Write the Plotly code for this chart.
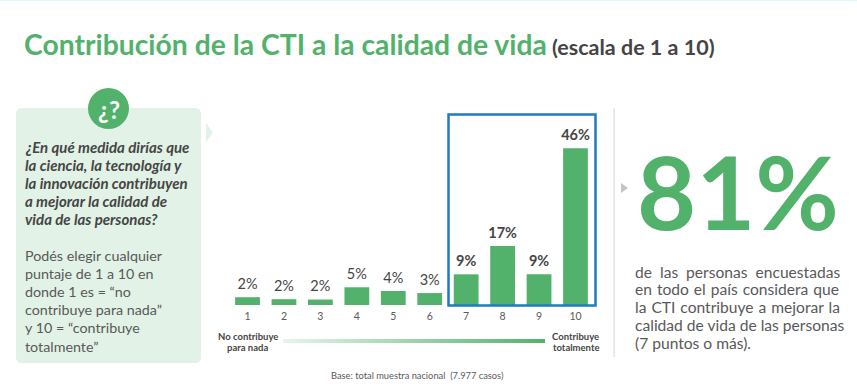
import plotly.graph_objects as go

W, H = 857, 388
categories = ["1", "2", "3", "4", "5", "6", "7", "8", "9", "10"]
values = [2.3, 1.7, 1.6, 5.2, 4.1, 3.5, 9.0, 17.3, 9.0, 46.0]
labels = ["2%", "2%", "2%", "5%", "4%", "3%", "<b>9%</b>", "<b>17%</b>", "<b>9%</b>", "<b>46%</b>"]

GREEN = "#52b26b"
DARK = "#454545"
GRAY = "#595959"
FONT = "Lato"

def px(x): return x / W
def py(y): return 1 - y / H

fig = go.Figure()
fig.add_trace(go.Bar(x=categories, y=values, width=0.68, marker=dict(color=GREEN, line=dict(width=0)),
                     xaxis="x", yaxis="y"))
fig.add_trace(go.Scatter(x=categories, y=values, text=labels, mode="markers+text", textposition="top center",
                         marker=dict(size=6, opacity=0), cliponaxis=False,
                         textfont=dict(family=FONT, size=14.5, color=DARK), xaxis="x", yaxis="y"))
fig.add_trace(go.Heatmap(x=[0, 1], y=[0, 1], z=[[0, 1], [0, 1]], zsmooth="best", showscale=False,
                         colorscale=[[0, "#e6f4ea"], [1, GREEN]], xaxis="x2", yaxis="y2", hoverinfo="skip"))

def rect(x0, y0, x1, y1, **kw):
    return dict(type="rect", xref="paper", yref="paper", x0=px(x0), x1=px(x1), y0=py(y0), y1=py(y1), **kw)

def rounded(x0, y0, x1, y1, r, color):
    pts = [(x0 + r, y0), (x1 - r, y0), (x1, y0, x1, y0 + r), (x1, y1 - r), (x1, y1, x1 - r, y1),
           (x0 + r, y1), (x0, y1, x0, y1 - r), (x0, y0 + r), (x0, y0, x0 + r, y0)]
    d = ""
    for i, p in enumerate(pts):
        if len(p) == 2:
            d += f"{'M' if i == 0 else 'L'}{px(p[0]):.5f},{py(p[1]):.5f} "
        else:
            d += f"Q{px(p[0]):.5f},{py(p[1]):.5f} {px(p[2]):.5f},{py(p[3]):.5f} "
    return dict(type="path", xref="paper", yref="paper", path=d + "Z", fillcolor=color, line=dict(width=0), layer="below")

def tri(x0, y0, x1, y1, color):
    d = f"M{px(x0):.5f},{py(y0):.5f} L{px(x1):.5f},{py((y0 + y1) / 2):.5f} L{px(x0):.5f},{py(y1):.5f} Z"
    return dict(type="path", xref="paper", yref="paper", path=d, fillcolor=color, line=dict(width=0), layer="below")

shapes = [
    rect(0, 0, W, 1, fillcolor="#d9fbfb", line=dict(width=0), layer="below"),
    rounded(16, 108, 201, 363, 6, "#e2f2e6"),
    dict(type="circle", xref="paper", yref="paper", x0=px(88), x1=px(129), y0=py(88), y1=py(129),
         fillcolor=GREEN, line=dict(width=0)),
    tri(206, 123, 213, 142, "#e2f2e6"),
    tri(621, 183, 628, 193, "#c4c4c4"),
    rect(613.6, 108, 614.6, 357, fillcolor="#d5d5d5", line=dict(width=0), layer="below"),
    rect(448.5, 114.5, 595.5, 305.5, fillcolor="rgba(0,0,0,0)", line=dict(color="#1f7bbf", width=2.5)),
]

def note(x, y, text, size, color=GRAY, anchor="left", family=FONT):
    return dict(xref="paper", yref="paper", x=px(x), y=py(y), text=text, showarrow=False, xanchor=anchor,
                yanchor="middle", align=anchor, font=dict(family=family, size=size, color=color),
                borderpad=0, borderwidth=0)

NB = "\u00a0"
HS = "\u00a0\u200a"
anns = [
    note(24, 44, "<b>Contribución de la CTI a la calidad de vida</b>", 28.3, GREEN),
    note(552, 47, "<b>(escala de 1 a 10)</b>", 21.5, DARK),
    note(108.5, 109, "<b>¿?</b>", 24, "white", "center"),
    note(637, 190, "<b>81%</b>", 102, GREEN),
    note(417, 375, "Base: total muestra nacional  (7.977 casos)", 9.3, GRAY, "center"),
    note(247.5, 336, "<b>No contribuye</b>", 9.5, DARK, "center"),
    note(247.5, 347, "<b>para nada</b>", 9.5, DARK, "center"),
    note(598.5, 336, "<b>Contribuye</b>", 9.5, DARK, "right"),
    note(598.5, 347, "<b>totalmente</b>", 9.5, DARK, "right"),
]
for i, line in enumerate(["¿En qué medida dirías que", "la ciencia, la tecnología y", "la innovación contribuyen",
                          "a mejorar la calidad de", "vida de las personas?"]):
    anns.append(note(25, 146.5 + i * 18.2, f"<b><i>{line}</i></b>", 15, DARK))
for i, line in enumerate(["Podés elegir cualquier", "puntaje de 1 a 10 en", "donde 1 es = “no",
                          "contribuye para nada”", "y 10 = “contribuye", "totalmente”"]):
    anns.append(note(25, 255 + i * 18.2, line, 14.3, GRAY))
for i, line in enumerate([f"de{NB}{NB}las{NB}{NB}personas{NB}{NB}encuestadas", f"en{HS}todo{HS}el{HS}país{HS}considera{HS}que",
                          f"la{HS}CTI{HS}contribuye{HS}a{HS}mejorar{HS}la", "calidad de vida de las personas",
                          "(7 puntos o más)."]):
    anns.append(note(635, 271.5 + i * 17.8, line, 15.6, GRAY))

fig.update_layout(
    width=W, height=H, margin=dict(l=0, r=0, t=0, b=0), autosize=False,
    paper_bgcolor="white", plot_bgcolor="rgba(0,0,0,0)", showlegend=False, bargap=0.32,
    xaxis=dict(domain=[px(229.3), px(593.7)], anchor="y", type="category", range=[-0.5, 9.5], showgrid=False,
               zeroline=False, showline=False, ticks="", tickfont=dict(family=FONT, size=10.5, color=GRAY),
               ticklabelstandoff=3),
    yaxis=dict(domain=[py(305), py(134.5)], range=[0, 50], anchor="x", visible=False),
    xaxis2=dict(domain=[px(283), px(545)], range=[0, 1], anchor="y2", visible=False),
    yaxis2=dict(domain=[py(343), py(339)], range=[0, 1], anchor="x2", visible=False),
    shapes=shapes, annotations=anns,
)
fig.write_html("out.html", post_script="document.body.style.margin='0';", config=dict(displayModeBar=False))
